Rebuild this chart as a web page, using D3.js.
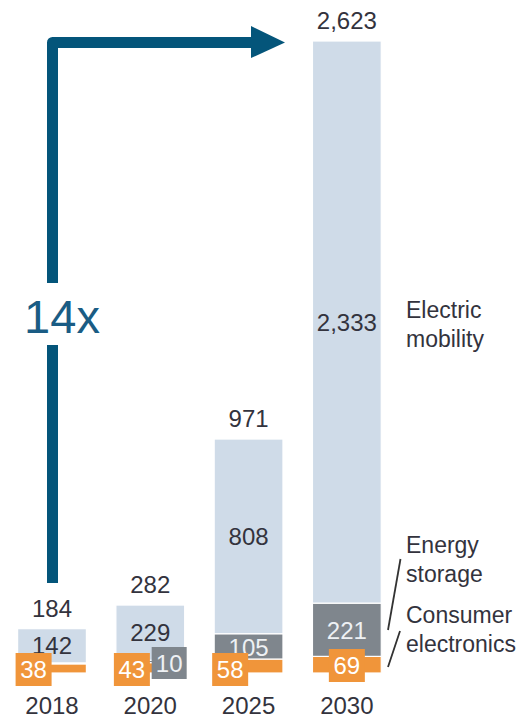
<!DOCTYPE html>
<html><head><meta charset="utf-8">
<script src="https://cdn.jsdelivr.net/npm/d3@7"></script>
<style>body{margin:0;background:#fff}svg{display:block}text{font-family:"Liberation Sans",Arial,sans-serif}</style>
</head><body><svg id="c" width="524" height="720"></svg>
<script>
const years = ["2018","2020","2025","2030"];
const consumer = [38, 43, 58, 69];
const storage = [4, 10, 105, 221];
const mobility = [142, 229, 808, 2333];
const totals = [184, 282, 971, 2623];
const seriesNames = [["Electric","mobility"],["Energy","storage"],["Consumer","electronics"]];
const multiple = "14x";

const C = {blue:"#cfdbe8", gray:"#7f868d", orange:"#f0953a", arrow:"#04557a", text:"#33333d"};
const svg = d3.select("#c");
const fs = 24;

const x = d3.scaleBand().domain(years).range([2.85, 396]).paddingInner(0.3).paddingOuter(0.15);
const y = d3.scaleLinear().domain([0, d3.max(totals)]).range([673, 41]);
const fmt = d3.format(",");

const rows = years.map((yr,i)=>({yr, consumer:consumer[i], storage:storage[i], mobility:mobility[i], total:totals[i], i}));
const keys = ["consumer","storage","mobility"];
const colors = {consumer:C.orange, storage:C.gray, mobility:C.blue};
const stack = d3.stack().keys(keys)(rows);

// bars
const g = svg.append("g");
stack.forEach(layer=>{
  g.selectAll(null).data(layer).enter().append("rect")
    .attr("x", d=>x(d.data.yr))
    .attr("width", x.bandwidth())
    .attr("y", d=>y(d[1]))
    .attr("height", d=>Math.max(0, y(d[0]) - y(d[1])))
    .attr("fill", colors[layer.key])
    .attr("stroke", "#fff").attr("stroke-width", 1.2);
});

// arrow
const ax = 52.5, ay = 42.5;
svg.append("path")
  .attr("d", `M${ax},583 L${ax},${ay} L252,${ay}`)
  .attr("fill","none").attr("stroke",C.arrow).attr("stroke-width",11).attr("stroke-linejoin","round");
svg.append("path").attr("d", `M251,26 L285,${ay} L251,58 Z`).attr("fill",C.arrow);
svg.append("rect").attr("x",40).attr("y",283).attr("width",25).attr("height",62).attr("fill","#fff");
svg.append("text").attr("x",62).attr("y",333).attr("text-anchor","middle")
  .attr("font-size",47).attr("fill","#1a5c84").text(multiple);

// total labels
svg.selectAll(null).data(rows).enter().append("text")
  .attr("x", d=>x(d.yr)+x.bandwidth()/2).attr("y", d=>y(d.total)-12)
  .attr("text-anchor","middle").attr("font-size",fs).attr("fill",C.text).text(d=>fmt(d.total));

// mobility labels (center of segment)
const mob = stack[2];
svg.selectAll(null).data(mob).enter().append("text")
  .attr("x", d=>x(d.data.yr)+x.bandwidth()/2).attr("y", d=>(y(d[0])+y(d[1]))/2 + 8.5)
  .attr("text-anchor","middle").attr("font-size",fs).attr("fill",C.text).text(d=>fmt(d.data.mobility));

// storage labels
const sto = stack[1];
sto.forEach(d=>{
  const v = d.data.storage, cx = x(d.data.yr) + x.bandwidth()/2;
  if (v < 5) return;
  if (v < 50) {
    const bx = x(d.data.yr) + x.bandwidth() + 2 - 35;
    svg.append("rect").attr("x",bx).attr("y",y(0)-26).attr("width",35).attr("height",32).attr("fill",C.gray);
    svg.append("text").attr("x",bx+17.5).attr("y",y(0)-1.5).attr("text-anchor","middle")
      .attr("font-size",fs).attr("fill","#eef1f4").text(fmt(v));
  } else {
    svg.append("text").attr("x",cx).attr("y",(y(d[0])+y(d[1]))/2 + 9.5).attr("text-anchor","middle")
      .attr("font-size",fs).attr("fill","#eef1f4").text(fmt(v));
  }
});

// consumer labels (orange boxes)
const con = stack[0];
con.forEach((d,i)=>{
  const last = i === con.length-1;
  const bx = last ? x(d.data.yr) + x.bandwidth()/2 - 18 : x(d.data.yr) - 2;
  const by = last ? y(0) - 24 : y(0) - 20;
  svg.append("rect").attr("x",bx).attr("y",by).attr("width",36).attr("height",33).attr("fill",C.orange);
  svg.append("text").attr("x",bx+18).attr("y",by+25).attr("text-anchor","middle")
    .attr("font-size",fs).attr("fill","#fff").text(fmt(d.data.consumer));
});

// year labels
svg.selectAll(null).data(years).enter().append("text")
  .attr("x", d=>x(d)+x.bandwidth()/2).attr("y",714)
  .attr("text-anchor","middle").attr("font-size",fs).attr("fill",C.text).text(d=>d);

// legend labels
const lx = 406;
const legY = [318, 553, 623];
seriesNames.forEach((lines,k)=>{
  const t = svg.append("text").attr("x",lx).attr("y",legY[k]).attr("font-size",fs-1).attr("fill",C.text);
  lines.forEach((s,j)=>t.append("tspan").attr("x",lx).attr("dy", j?29:0).text(s));
});
// leader lines
svg.append("line").attr("x1",400.5).attr("y1",559).attr("x2",388).attr("y2",630).attr("stroke","#333").attr("stroke-width",1.8);
svg.append("line").attr("x1",400).attr("y1",631).attr("x2",388).attr("y2",667).attr("stroke","#333").attr("stroke-width",1.8);
</script></body></html>
